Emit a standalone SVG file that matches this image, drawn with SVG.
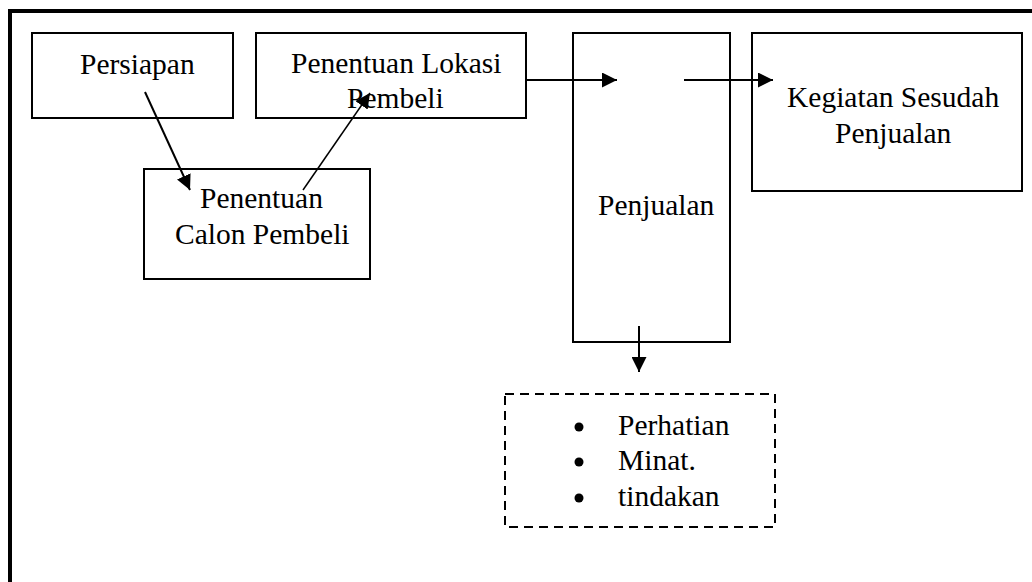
<svg xmlns="http://www.w3.org/2000/svg" width="1032" height="582" viewBox="0 0 1032 582">
<style>
.box{fill:#fff;stroke:#000;stroke-width:2}
.dash{fill:none;stroke:#000;stroke-width:2;stroke-dasharray:9 6}
.t{font-family:"Liberation Serif","Times New Roman",serif;font-size:29.5px;fill:#000}
.ln{stroke:#000;stroke-width:2;fill:none}
.ln2{stroke:#000;stroke-width:1.5;fill:none}
</style>
<defs>
<marker id="ah" viewBox="0 0 10 10" refX="10" refY="5" markerUnits="userSpaceOnUse" markerWidth="15" markerHeight="15" orient="auto">
<path d="M0,0 L10,5 L0,10 Z" fill="#000"/>
</marker>
</defs>
<rect width="1032" height="582" fill="#fff"/>
<g id="frame">
<path d="M10,582 L10,11 L1032,11" fill="none" stroke="#000" stroke-width="4"/>
</g>
<g id="persiapan">
<rect class="box" x="32" y="33" width="201" height="85"/>
<text class="t" x="80" y="74">Persiapan</text>
</g>
<g id="lokasi">
<rect class="box" x="256" y="33" width="270" height="85"/>
<text class="t" x="291" y="73">Penentuan Lokasi</text>
<text class="t" x="347" y="108">Pembeli</text>
</g>
<g id="calon">
<rect class="box" x="144" y="169" width="226" height="110"/>
<text class="t" x="200" y="208">Penentuan</text>
<text class="t" x="175" y="244">Calon Pembeli</text>
</g>
<g id="penjualan">
<rect class="box" x="573" y="33" width="157" height="309"/>
<text class="t" x="598" y="215">Penjualan</text>
</g>
<g id="kegiatan">
<rect class="box" x="752" y="33" width="270" height="158"/>
<text class="t" x="787" y="107">Kegiatan Sesudah</text>
<text class="t" x="835" y="143">Penjualan</text>
</g>
<g id="hasil">
<rect class="dash" x="505" y="394" width="270" height="133"/>
<circle cx="579" cy="427" r="4.5"/>
<circle cx="579" cy="462" r="4.5"/>
<circle cx="579" cy="498" r="4.5"/>
<text class="t" x="618" y="435">Perhatian</text>
<text class="t" x="618" y="470">Minat.</text>
<text class="t" x="618" y="506">tindakan</text>
</g>
<g id="connectors">
<line class="ln" x1="145" y1="92" x2="190" y2="190" marker-end="url(#ah)"/>
<line class="ln2" x1="303" y1="190" x2="370" y2="93" marker-end="url(#ah)"/>
<line class="ln" x1="526" y1="80" x2="617" y2="80" marker-end="url(#ah)"/>
<line class="ln" x1="684" y1="80" x2="773" y2="80" marker-end="url(#ah)"/>
<line class="ln" x1="639" y1="326" x2="639" y2="372" marker-end="url(#ah)"/>
</g>
</svg>
